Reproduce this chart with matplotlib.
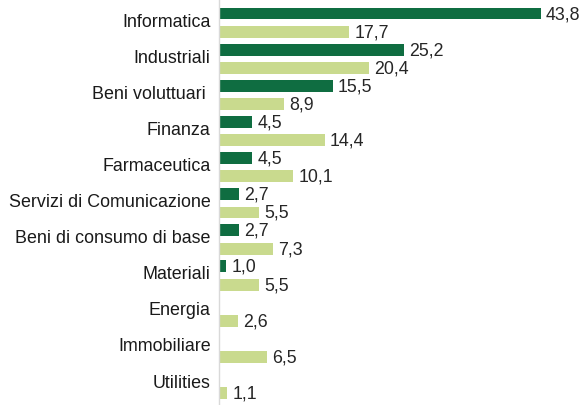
import numpy as np
import matplotlib
matplotlib.use("Agg")
import matplotlib.pyplot as plt

plt.rcParams['font.family'] = ['Liberation Sans', 'DejaVu Sans']

categories = ["Informatica", "Industriali", "Beni voluttuari ", "Finanza", "Farmaceutica",
              "Servizi di Comunicazione", "Beni di consumo di base", "Materiali",
              "Energia", "Immobiliare", "Utilities"]
series_dark = [43.8, 25.2, 15.5, 4.5, 4.5, 2.7, 2.7, 1.0, np.nan, np.nan, np.nan]
series_light = [17.7, 20.4, 8.9, 14.4, 10.1, 5.5, 7.3, 5.5, 2.6, 6.5, 1.1]

dark_color = "#0f6d41"
light_color = "#c9da8e"

fig = plt.figure(figsize=(5.8, 4.06), dpi=100)
ax = fig.add_axes([219/580, 0, 356/580, 1])

y = np.arange(len(categories))
off = 0.256
h = 0.33
ax.barh(y - off, series_dark, height=h, color=dark_color)
ax.barh(y + off, series_light, height=h, color=light_color)

for yi, v in zip(y, series_dark):
    if not np.isnan(v):
        ax.text(v + 0.7, yi - off, f"{v:.1f}".replace(".", ","), va="center", ha="left",
                fontsize=12.8, color="#262626")
for yi, v in zip(y, series_light):
    if not np.isnan(v):
        ax.text(v + 0.7, yi + off, f"{v:.1f}".replace(".", ","), va="center", ha="left",
                fontsize=12.8, color="#262626")

ax.set_xlim(0, 356/7.35)
ax.set_ylim(10.59, -0.658)
ax.set_yticks(y - 0.1)
ax.set_yticklabels(categories, fontsize=12.9, color="#1a1a1a")
ax.tick_params(axis="y", length=0, pad=6)
ax.set_xticks([])
for s in ["top", "right", "bottom"]:
    ax.spines[s].set_visible(False)
ax.spines["left"].set_color("#d9d9d9")
ax.spines["left"].set_linewidth(1)

fig.savefig("out.png", dpi=100)
